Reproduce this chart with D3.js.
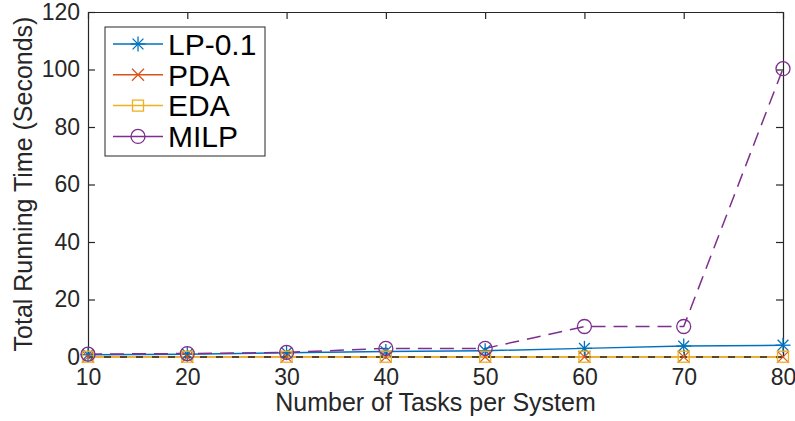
<!DOCTYPE html>
<html>
<head>
<meta charset="utf-8">
<script src="https://cdn.jsdelivr.net/npm/d3@7"></script>
<style>
  html, body { margin: 0; padding: 0; background: #fff; }
  svg { display: block; font-family: "Liberation Sans", Arial, Helvetica, sans-serif; }
</style>
</head>
<body>
<svg id="chart" width="795" height="421"></svg>
<script>
// Number of tasks per system
const tasks = [10, 20, 30, 40, 50, 60, 70, 80];
// Total running time (seconds) for each method
const lpValues   = [0.8, 1.0, 1.5, 1.9, 2.2, 3.0, 3.8, 4.1];
const pdaValues  = [0.05, 0.05, 0.05, 0.05, 0.05, 0.05, 0.05, 0.05];
const edaValues  = [0.1, 0.1, 0.1, 0.1, 0.1, 0.1, 0.1, 0.1];
const milpValues = [1.0, 1.2, 1.6, 3.0, 3.0, 10.6, 10.6, 100.3];
const xTicks = [10, 20, 30, 40, 50, 60, 70, 80];
const yTicks = [0, 20, 40, 60, 80, 100, 120];

const seriesList = [
  { name: "LP-0.1", values: lpValues,   color: "#0072BD", marker: "star",   dash: null },
  { name: "PDA",    values: pdaValues,  color: "#D95319", marker: "cross",  dash: null },
  { name: "EDA",    values: edaValues,  color: "#EDB120", marker: "square", dash: null },
  { name: "MILP",   values: milpValues, color: "#7E2F8E", marker: "circle", dash: "14,8" }
];

const svg = d3.select("#chart");
const plotLeft = 88, plotRight = 783, plotTop = 12, plotBottom = 357;
const textColor = "#262626";

const x = d3.scaleLinear().domain([10, 80]).range([plotLeft, plotRight]);
const y = d3.scaleLinear().domain([0, 120]).range([plotBottom, plotTop]);

// Axes with inward ticks, mirrored on top and right (boxed frame)
const tickLen = 7;
const gx = svg.append("g").attr("transform", `translate(0,${plotBottom})`)
  .call(d3.axisBottom(x).tickValues(xTicks).tickSizeInner(-tickLen).tickSizeOuter(0).tickPadding(12));
const gxTop = svg.append("g").attr("transform", `translate(0,${plotTop})`)
  .call(d3.axisTop(x).tickValues(xTicks).tickSizeInner(-tickLen).tickSizeOuter(0).tickFormat(""));
const gy = svg.append("g").attr("transform", `translate(${plotLeft},0)`)
  .call(d3.axisLeft(y).tickValues(yTicks).tickSizeInner(-tickLen).tickSizeOuter(0).tickPadding(8));
const gyRight = svg.append("g").attr("transform", `translate(${plotRight},0)`)
  .call(d3.axisRight(y).tickValues(yTicks).tickSizeInner(-tickLen).tickSizeOuter(0).tickFormat(""));

[gx, gxTop, gy, gyRight].forEach(g => {
  g.selectAll("path.domain").attr("stroke", textColor).attr("stroke-width", 1.2);
  g.selectAll(".tick line").attr("stroke", textColor).attr("stroke-width", 1.2);
  g.selectAll(".tick text").attr("fill", textColor).attr("font-size", 23)
    .attr("font-family", "'Liberation Sans', Arial, sans-serif");
});
gx.selectAll(".tick text").attr("dy", "0.71em");
gx.select("path.domain").attr("stroke", "none");

// Axis titles
svg.append("text")
  .attr("x", (plotLeft + plotRight) / 2).attr("y", 411)
  .attr("text-anchor", "middle").attr("fill", textColor).attr("font-size", 25)
  .text("Number of Tasks per System");
svg.append("text")
  .attr("transform", `translate(32,184) rotate(-90)`)
  .attr("text-anchor", "middle").attr("fill", textColor).attr("font-size", 25)
  .text("Total Running Time (Seconds)");

// Marker drawing
function drawMarker(g, type, color, cx, cy) {
  const s = g.append("g").attr("transform", `translate(${cx},${cy})`)
    .attr("stroke", color).attr("stroke-width", 1.3).attr("fill", "none");
  if (type === "star") {
    const r = 7.5;
    s.append("line").attr("x1", -r).attr("y1", 0).attr("x2", r).attr("y2", 0);
    s.append("line").attr("x1", 0).attr("y1", -r).attr("x2", 0).attr("y2", r);
    const d = r * 0.72;
    s.append("line").attr("x1", -d).attr("y1", -d).attr("x2", d).attr("y2", d);
    s.append("line").attr("x1", -d).attr("y1", d).attr("x2", d).attr("y2", -d);
  } else if (type === "cross") {
    const d = 6;
    s.append("line").attr("x1", -d).attr("y1", -d).attr("x2", d).attr("y2", d);
    s.append("line").attr("x1", -d).attr("y1", d).attr("x2", d).attr("y2", -d);
  } else if (type === "square") {
    s.append("rect").attr("x", -5.5).attr("y", -5.5).attr("width", 11).attr("height", 11);
  } else if (type === "circle") {
    s.append("circle").attr("r", 7);
  }
}

const plot = svg.append("g");
const line = d3.line().x((d, i) => x(tasks[i])).y(d => y(d));

// Series lines
seriesList.forEach(s => {
  plot.append("path")
    .datum(s.values)
    .attr("d", line)
    .attr("fill", "none")
    .attr("stroke", s.color)
    .attr("stroke-width", 1.5)
    .attr("stroke-dasharray", s.dash);
});

// Dashed zero baseline across the plot
plot.append("line")
  .attr("x1", x(10)).attr("x2", x(80))
  .attr("y1", y(0)).attr("y2", y(0))
  .attr("stroke", "#262626").attr("stroke-width", 1.3)
  .attr("stroke-dasharray", "7,9");

// Markers
seriesList.forEach(s => {
  s.values.forEach((v, i) => drawMarker(plot, s.marker, s.color, x(tasks[i]), y(v)));
});

// Legend
const lg = svg.append("g");
lg.append("rect")
  .attr("x", 105).attr("y", 27).attr("width", 160).attr("height", 129)
  .attr("fill", "#fff").attr("stroke", textColor).attr("stroke-width", 1);
seriesList.forEach((s, i) => {
  const cy = 44 + i * 30.8;
  lg.append("line").attr("x1", 113).attr("x2", 163).attr("y1", cy).attr("y2", cy)
    .attr("stroke", s.color).attr("stroke-width", 1.5);
  drawMarker(lg, s.marker, s.color, 138, cy);
  lg.append("text").attr("x", 168).attr("y", cy).attr("dy", "0.36em")
    .attr("fill", "#000").attr("font-size", 30).text(s.name);
});
</script>
</body>
</html>
